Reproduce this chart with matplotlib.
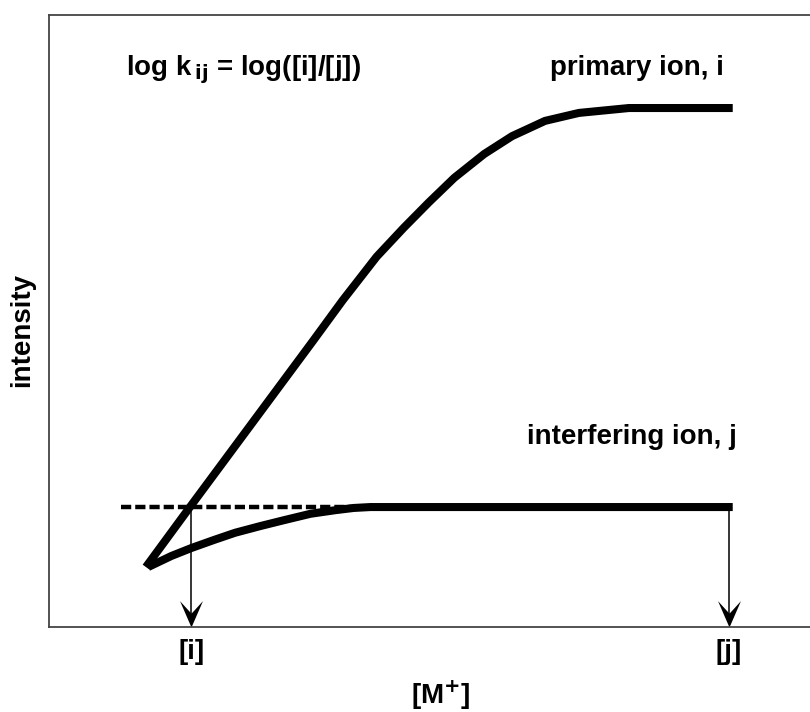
import numpy as np
import matplotlib
matplotlib.use("Agg")
import matplotlib.pyplot as plt
from matplotlib.path import Path

plt.rcParams["font.family"] = ["Liberation Sans", "DejaVu Sans"]
plt.rcParams["font.weight"] = "bold"

# schematic curves in arbitrary units (x: 0-100, y: 0-100)
primary_x = [12.6, 18.5, 26.4, 34.3, 38.2, 42.6, 46.1, 49.4, 52.7, 56.6, 60.2, 64.5, 68.9, 75.4, 88.9]
primary_y = [9.8, 19.9, 33.3, 46.7, 53.4, 60.5, 65.2, 69.4, 73.4, 77.3, 80.2, 82.7, 84.0, 84.8, 84.8]

interf_x = [12.9, 15.9, 18.5, 21.4, 24.2, 27.5, 30.7, 34.0, 37.3, 39.6, 41.8, 88.9]
interf_y = [9.8, 11.6, 12.9, 14.2, 15.4, 16.5, 17.5, 18.5, 19.1, 19.45, 19.6, 19.6]

ref_level = 19.6          # primary intensity matched to interfering plateau
dash_x = [9.3, 40.5]
i_pos, j_pos = 18.5, 88.4

# concave arrowhead marker, tip at the origin
HEAD = Path([(0, 0), (-10, 23), (0, 12), (10, 23), (0, 0)],
            [Path.MOVETO, Path.LINETO, Path.LINETO, Path.LINETO, Path.CLOSEPOLY])

fig = plt.figure(figsize=(8.1, 7.12), dpi=100)
ax = fig.add_axes([49/810, 1 - 627/712, 1 - 49/810 + 0.01, 612/712])
ax.set_xlim(0, 100)
ax.set_ylim(0, 100)

ax.plot(primary_x, primary_y, color="black", lw=5.8, solid_capstyle="butt", solid_joinstyle="round")
ax.plot(interf_x, interf_y, color="black", lw=5.8, solid_capstyle="butt", solid_joinstyle="round")
ax.plot(dash_x, [ref_level, ref_level], color="black", lw=3.2, ls=(0, (2.3, 0.9)))

for xp in (i_pos, j_pos):
    ax.plot([xp, xp], [ref_level, 2], color="black", lw=1.1)
    ax.plot([xp], [0], marker=HEAD, ms=38, color="black", mec="none", clip_on=False)

for s in ax.spines.values():
    s.set_color("#444444")
    s.set_linewidth(1.3)
ax.spines["right"].set_visible(False)
ax.set_xticks([])
ax.set_yticks([])

fs = 20
ax.text(10.0, 91.0, r"log k$_{\,\mathbf{ij}}$ = log([i]/[j])", fontsize=fs, fontweight="bold", va="center")
ax.text(65.2, 91.3, "primary ion, i", fontsize=fs, fontweight="bold", va="center")
ax.text(62.2, 31.0, "interfering ion, j", fontsize=fs, fontweight="bold", va="center")
ax.text(i_pos, -4.1, "[i]", fontsize=fs, fontweight="bold", ha="center", va="center")
ax.text(j_pos, -4.1, "[j]", fontsize=fs, fontweight="bold", ha="center", va="center")
ax.text(50.9, -11.1, r"[M$^{\mathbf{+}}$]", fontsize=fs, fontweight="bold", ha="center", va="center")
ax.text(-3.5, 48.5, "intensity", fontsize=fs, fontweight="bold", ha="center", va="center", rotation=90)

fig.savefig("out.png", dpi=100)
